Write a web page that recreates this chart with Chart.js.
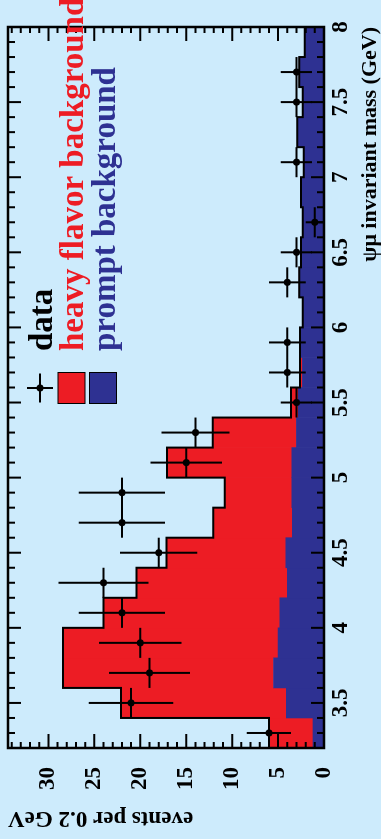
<!DOCTYPE html>
<html lang="en">
<head>
<meta charset="UTF-8">
<title>psi mu invariant mass</title>
<script src="https://cdn.jsdelivr.net/npm/chart.js@4.4.0/dist/chart.umd.js"></script>
<style>
  html, body { margin: 0; padding: 0; background: #cdebfc; overflow: hidden; }
  /* chart is drawn landscape, then turned a quarter turn to the left */
  #wrap { position: absolute; left: 0; top: 0; width: 839px; height: 381px;
          transform-origin: 0 0; transform: translate(0, 839px) rotate(-90deg); }
  canvas { display: block; }
</style>
</head>
<body>
<div id="wrap"><canvas id="massChart" width="839" height="381"></canvas></div>
<script>
// bins of 0.2 GeV, centres
const binCenters = [3.3, 3.5, 3.7, 3.9, 4.1, 4.3, 4.5, 4.7, 4.9, 5.1, 5.3, 5.5,
                    5.7, 5.9, 6.1, 6.3, 6.5, 6.7, 6.9, 7.1, 7.3, 7.5, 7.7, 7.9];
const dataCounts = [6, 21, 19, 20, 22, 24, 18, 22, 22, 15, 14, 3,
                    4, 4, 0, 4, 3, 1, 0, 3, 0, 3, 3, 0];
const dataErrors = [2.4, 4.6, 4.4, 4.5, 4.7, 4.9, 4.2, 4.7, 4.7, 3.9, 3.7, 1.7,
                    2.0, 2.0, 0, 2.0, 1.7, 1.0, 0, 1.7, 0, 1.7, 1.7, 0];
const promptBkg = [1.2, 4.1, 5.5, 5.0, 4.8, 4.0, 4.15, 3.45, 3.5, 3.5, 3.0, 2.8,
                   2.35, 2.55, 2.3, 2.7, 2.5, 2.3, 2.4, 2.2, 2.9, 2.3, 2.7, 2.1];
const heavyBkg = [4.8, 18.0, 22.9, 23.4, 19.2, 16.4, 13.0, 8.6, 7.3, 13.6, 9.1, 0.8,
                  0.25, 0.05, 0, 0, 0, 0, 0.1, 0, 0, 0, 0, 0];
const massTicks = [3.5, 4, 4.5, 5, 5.5, 6, 6.5, 7, 7.5, 8];
const eventTicks = [0, 5, 10, 15, 20, 25, 30];
const legendLabels = ['data', 'heavy flavor background', 'prompt background'];

const RED = '#ed1c24';
const BLUE = '#2e3192';
const SERIF = '"Liberation Serif", "Times New Roman", serif';
const BIN = 0.2;

const points = [];
binCenters.forEach((c, i) => { if (dataCounts[i] > 0) points.push({x: c, y: dataCounts[i]}); });

const outline = binCenters.map((c, i) => ({x: c - BIN / 2, y: promptBkg[i] + heavyBkg[i]}));
const last = binCenters.length - 1;
outline.push({x: binCenters[last] + BIN / 2, y: promptBkg[last] + heavyBkg[last]});

// error bars: bin width horizontally, counting error vertically
const errorBars = {
  id: 'errorBars',
  afterDatasetsDraw(chart) {
    const {ctx, scales: {x, y}} = chart;
    ctx.save();
    ctx.strokeStyle = '#000';
    ctx.lineWidth = 2;
    ctx.beginPath();
    binCenters.forEach((c, i) => {
      if (!dataCounts[i]) return;
      const px = x.getPixelForValue(c);
      const py = y.getPixelForValue(dataCounts[i]);
      ctx.moveTo(x.getPixelForValue(c - BIN / 2), py);
      ctx.lineTo(x.getPixelForValue(c + BIN / 2), py);
      ctx.moveTo(px, y.getPixelForValue(dataCounts[i] - dataErrors[i]));
      ctx.lineTo(px, y.getPixelForValue(dataCounts[i] + dataErrors[i]));
    });
    ctx.stroke();
    ctx.restore();
  }
};

// frame with inward ticks on all four sides
const frameTicks = {
  id: 'frameTicks',
  afterDatasetsDraw(chart) {
    const {ctx, chartArea: a, scales: {x, y}} = chart;
    ctx.save();
    ctx.strokeStyle = '#000';
    ctx.lineWidth = 2;
    ctx.beginPath();
    for (let k = 33; k < 80; k++) {
      const px = x.getPixelForValue(k / 10);
      const len = k % 5 === 0 ? 13 : 7;
      ctx.moveTo(px, a.bottom); ctx.lineTo(px, a.bottom - len);
      ctx.moveTo(px, a.top); ctx.lineTo(px, a.top + len);
    }
    for (let k = 1; k <= 34; k++) {
      const py = y.getPixelForValue(k);
      const len = k % 5 === 0 ? 14 : 6;
      ctx.moveTo(a.left, py); ctx.lineTo(a.left + len, py);
      ctx.moveTo(a.right, py); ctx.lineTo(a.right - len, py);
    }
    ctx.stroke();
    ctx.lineWidth = 2.5;
    ctx.strokeRect(a.left, a.top, a.right - a.left, a.bottom - a.top);
    ctx.restore();
  }
};

const legendBox = {
  id: 'legendBox',
  afterDraw(chart) {
    const {ctx, chartArea: a} = chart;
    const cx = a.left + 360;
    const rows = [a.top + 32, a.top + 63.5, a.top + 95];
    const textX = a.left + 397;
    ctx.save();
    // data marker
    ctx.strokeStyle = '#000';
    ctx.lineWidth = 2;
    ctx.beginPath();
    ctx.moveTo(cx - 14.5, rows[0]); ctx.lineTo(cx + 14.5, rows[0]);
    ctx.moveTo(cx, rows[0] - 13); ctx.lineTo(cx, rows[0] + 13);
    ctx.stroke();
    ctx.fillStyle = '#000';
    ctx.beginPath();
    ctx.arc(cx, rows[0], 3.5, 0, Math.PI * 2);
    ctx.fill();
    // boxes
    [RED, BLUE].forEach((col, i) => {
      const r = rows[i + 1];
      ctx.fillStyle = col;
      ctx.fillRect(cx - 15.5, r - 13.5, 31, 27);
      ctx.lineWidth = 1;
      ctx.strokeRect(cx - 15.5, r - 13.5, 31, 27);
    });
    ctx.font = 'bold 33px ' + SERIF;
    ctx.textAlign = 'left';
    ctx.textBaseline = 'alphabetic';
    ['#000', RED, BLUE].forEach((col, i) => {
      ctx.fillStyle = col;
      ctx.fillText(legendLabels[i], textX, rows[i] + 11.5);
    });
    ctx.restore();
  }
};

const tickFont = {family: SERIF, size: 23, weight: 'bold', lineHeight: 1};

new Chart(document.getElementById('massChart'), {
  type: 'bar',
  data: {
    datasets: [
      {
        type: 'scatter',
        label: legendLabels[0],
        data: points,
        order: 0,
        pointRadius: 3.5,
        pointBorderWidth: 0,
        backgroundColor: '#000',
        borderColor: '#000'
      },
      {
        type: 'line',
        label: 'total background',
        data: outline,
        order: 1,
        stepped: true,
        borderColor: '#000',
        borderWidth: 2,
        pointRadius: 0,
        fill: false
      },
      {
        type: 'bar',
        label: legendLabels[2],
        data: binCenters.map((c, i) => ({x: c, y: promptBkg[i]})),
        order: 2,
        grouped: false,
        barPercentage: 1,
        categoryPercentage: 1,
        borderWidth: 0,
        backgroundColor: BLUE
      },
      {
        type: 'bar',
        label: legendLabels[1],
        data: binCenters.map((c, i) => ({x: c, y: [promptBkg[i], promptBkg[i] + heavyBkg[i]]})),
        order: 3,
        grouped: false,
        barPercentage: 1,
        categoryPercentage: 1,
        borderWidth: 0,
        backgroundColor: RED
      }
    ]
  },
  options: {
    responsive: false,
    animation: false,
    layout: { padding: { top: 8, right: 27, bottom: 0, left: 0 } },
    plugins: {
      legend: { display: false },
      tooltip: { enabled: false }
    },
    scales: {
      x: {
        type: 'linear',
        min: 3.2,
        max: 8,
        offset: false,
        grid: { display: false, drawTicks: false, offset: false },
        border: { display: false },
        afterBuildTicks: (s) => { s.ticks = massTicks.map(v => ({value: v})); },
        ticks: { font: tickFont, color: '#000', padding: 6, maxRotation: 0, autoSkip: false,
                 callback: (v) => String(v) },
        title: {
          display: true,
          text: 'ψμ invariant mass (GeV)',
          align: 'end',
          color: '#000',
          font: {family: SERIF, size: 22, weight: 'bold', lineHeight: 1},
          padding: 0
        },
        afterFit: (s) => { s.height = 57; s.paddingLeft = 0; s.paddingRight = 0; }
      },
      y: {
        type: 'linear',
        min: 0,
        max: 34.4,
        grid: { display: false, drawTicks: false },
        border: { display: false },
        afterBuildTicks: (s) => { s.ticks = eventTicks.map(v => ({value: v})); },
        ticks: { font: tickFont, color: '#000', padding: 19, callback: (v) => String(v) },
        title: {
          display: true,
          text: 'events per 0.2 GeV',
          align: 'end',
          color: '#000',
          font: {family: SERIF, size: 23, weight: 'bold', lineHeight: 1},
          padding: { top: 10, bottom: 0 }
        },
        afterFit: (s) => { s.width = 91; s.paddingTop = 0; s.paddingBottom = 0; }
      }
    }
  },
  plugins: [errorBars, frameTicks, legendBox]
});
</script>
</body>
</html>
